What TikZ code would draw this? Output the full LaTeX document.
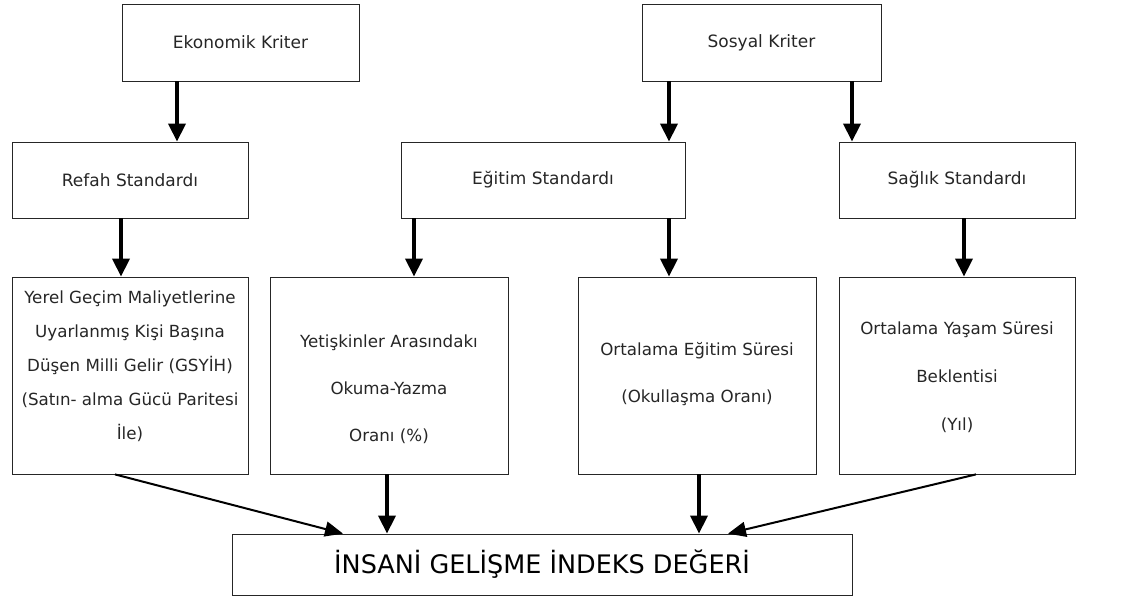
\documentclass[tikz,border=0pt]{standalone}
\usepackage{fontspec}
\setmainfont{DejaVu Sans}
\usetikzlibrary{arrows.meta}

\begin{document}
\begin{tikzpicture}[x=1pt, y=-1pt,
    box/.style={draw=black!85, line width=0.8pt, rectangle, align=center, text=black!85, font=\fontsize{17}{21}\selectfont},
    txt/.style={align=center, text=black!85},
    arr/.style={-{Triangle[width=17pt,length=18pt]}, line width=3.5pt},
    slant/.style={-{Triangle[width=15pt,length=18pt]}, line width=2pt}]
    \useasboundingbox (0,0) rectangle (1136,600);
    % Criteria
    \node[box, minimum width=237pt, minimum height=77pt] (ekonomik) at (240.5,42.5) {Ekonomik Kriter};
    \node[box, minimum width=239pt, minimum height=77pt] (sosyal) at (761.5,42.5) {Sosyal Kriter};

    % Standards
    \node[box, minimum width=236pt, minimum height=76pt] (refah) at (130,180) {Refah Standardı};
    \node[box, minimum width=284pt, minimum height=76pt] (egitim) at (543,180) {Eğitim Standardı};
    \node[box, minimum width=236pt, minimum height=76pt] (saglik) at (957,180) {Sağlık Standardı};

    % Indicators (text set apart, a bit off centre as in the source)
    \node[box, minimum width=236pt, minimum height=197pt] (yerel) at (130,375.5) {};
    \node[box, minimum width=238pt, minimum height=197pt] (yetiskin) at (389,375.5) {};
    \node[box, minimum width=238pt, minimum height=197pt] (ortegitim) at (697,375.5) {};
    \node[box, minimum width=236pt, minimum height=197pt] (yasam) at (957,375.5) {};

    \node[txt, font=\fontsize{16.7}{34}\selectfont] (yerelt) at ([yshift=9pt]yerel.center)
        {Yerel Geçim Maliyetlerine\\Uyarlanmış Kişi Başına\\Düşen Milli Gelir (GSYİH)\\(Satın- alma Gücü Paritesi\\İle)};
    \node[txt, font=\fontsize{16.7}{47}\selectfont] (yetiskint) at ([yshift=-14pt]yetiskin.center)
        {Yetişkinler Arasındakı\\Okuma-Yazma\\Oranı (\%)};
    \node[txt, font=\fontsize{16.7}{47}\selectfont] (ortegitimt) at ([yshift=1pt]ortegitim.center)
        {Ortalama Eğitim Süresi\\(Okullaşma Oranı)};
    \node[txt, font=\fontsize{16.7}{48}\selectfont] (yasamt) at ([yshift=-2pt]yasam.center)
        {Ortalama Yaşam Süresi\\Beklentisi\\(Yıl)};

    % Index
    \node[box, minimum width=620pt, minimum height=61pt, text=black, font=\fontsize{25.5}{30}\selectfont] (hgi) at (542,564.5)
        {İNSANİ GELİŞME İNDEKS DEĞERİ};

    \draw[arr] ([xshift=-63.5pt]ekonomik.south) -- ([xshift=-63.5pt]ekonomik.south |- refah.north);
    \draw[arr] ([xshift=-92.5pt]sosyal.south) -- ([xshift=-92.5pt]sosyal.south |- egitim.north);
    \draw[arr] ([xshift=90.5pt]sosyal.south) -- ([xshift=90.5pt]sosyal.south |- saglik.north);

    \draw[arr] ([xshift=-9pt]refah.south) -- ([xshift=-9pt]refah.south |- yerel.north);
    \draw[arr] ([xshift=-129pt]egitim.south) -- ([xshift=-129pt]egitim.south |- yetiskin.north);
    \draw[arr] ([xshift=126pt]egitim.south) -- ([xshift=126pt]egitim.south |- ortegitim.north);
    \draw[arr] ([xshift=7pt]saglik.south) -- ([xshift=7pt]saglik.south |- yasam.north);

    \draw[slant] ([xshift=-15pt]yerel.south) -- ([xshift=-199pt]hgi.north);
    \draw[arr] ([xshift=-2pt]yetiskin.south) -- ([xshift=-2pt]yetiskin.south |- hgi.north);
    \draw[arr] ([xshift=2pt]ortegitim.south) -- ([xshift=2pt]ortegitim.south |- hgi.north);
    \draw[slant] ([xshift=19pt]yasam.south) -- ([xshift=186pt]hgi.north);
\end{tikzpicture}
\end{document}
